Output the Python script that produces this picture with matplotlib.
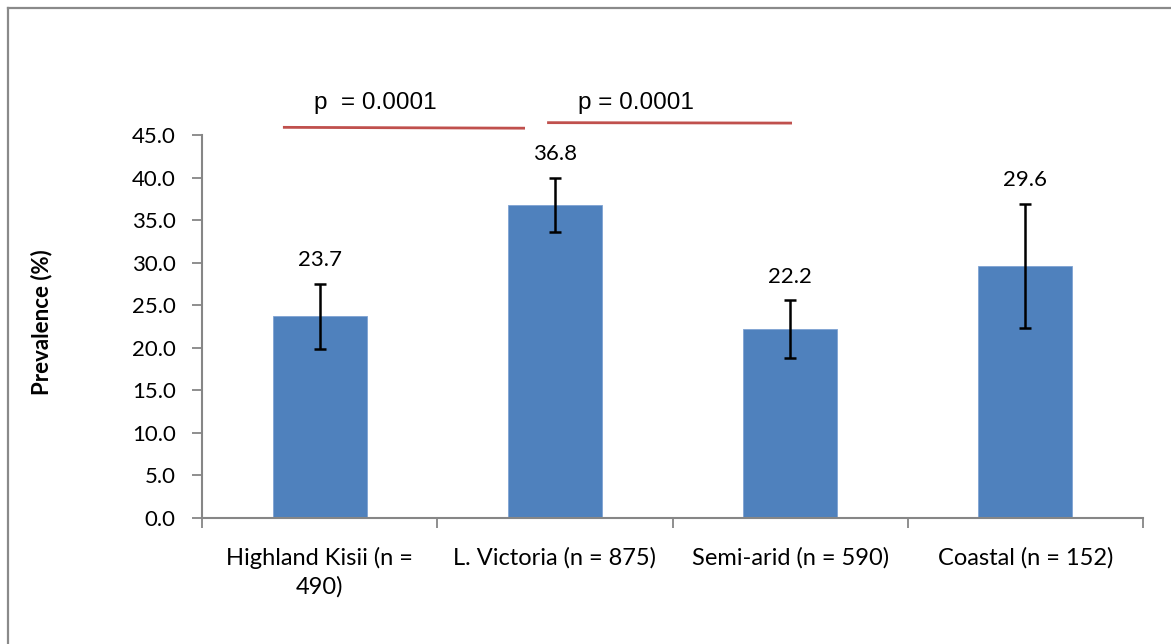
import matplotlib
matplotlib.use("Agg")
import matplotlib.pyplot as plt
from matplotlib.lines import Line2D
from matplotlib.ticker import FormatStrFormatter, MultipleLocator

regioes = ["Highland Kisii (n =\n490)", "L. Victoria (n = 875)",
           "Semi-arid (n = 590)", "Coastal (n = 152)"]
prevalencia = [23.7, 36.8, 22.2, 29.6]
erro = [3.8, 3.2, 3.4, 7.3]
rotulos = ["23.7", "36.8", "22.2", "29.6"]

# comparacoes: (x inicio, x fim, y inicio, y fim, texto, x texto)
comparacoes = [
    (-0.156, 0.873, 45.9, 45.8, "p  = 0.0001", 0.2375),
    (0.967, 2.008, 46.45, 46.4, "p = 0.0001", 1.343),
]

plt.rcParams['font.family'] = ['Lato', 'DejaVu Sans']
cinza = '#868686'

fig = plt.figure(figsize=(11.71, 6.44), dpi=100)
ax = fig.add_axes([202/1171, 1 - 518/644, (1143 - 202)/1171, (518 - 135)/644])

x = list(range(len(regioes)))
ax.bar(x, prevalencia, width=0.4, color='#4F81BD', edgecolor='#7fa3d3',
       linewidth=0.6, zorder=2)
ax.errorbar(x, prevalencia, yerr=erro, fmt='none', ecolor='black',
            elinewidth=1.8, capsize=4.5, capthick=1.8, zorder=3)

for xi, v, e, r in zip(x, prevalencia, erro, rotulos):
    ax.annotate(r, (xi, v + e), xytext=(0, 17), textcoords='offset points',
                ha='center', va='center', fontsize=16)

for x0, x1, y0, y1, txt, xt in comparacoes:
    ax.plot([x0, x1], [y0, y1], color='#C0504D', linewidth=2, clip_on=False,
            solid_capstyle='butt')
    ax.text(xt, 48.0, txt, ha='center', va='baseline', fontsize=17.5,
            family=['Liberation Sans', 'DejaVu Sans'], clip_on=False)

ax.set_xlim(-0.5, len(regioes) - 0.5)
ax.set_ylim(0, 45)
ax.yaxis.set_major_locator(MultipleLocator(5))
ax.yaxis.set_major_formatter(FormatStrFormatter('%.1f'))
ax.set_xticks(x)
ax.set_xticklabels(regioes, fontsize=17, linespacing=1.4)
ax.set_xticks([i - 0.5 for i in range(len(regioes) + 1)], minor=True)
ax.tick_params(axis='x', which='major', length=0, pad=21)
ax.tick_params(axis='x', which='minor', length=7, width=1.3, color=cinza, direction='out')
ax.tick_params(axis='y', length=7, width=1.3, color=cinza, direction='out',
               labelsize=16, pad=12)

for s in ['top', 'right']:
    ax.spines[s].set_visible(False)
for s in ['left', 'bottom']:
    ax.spines[s].set_color(cinza)
    ax.spines[s].set_linewidth(1.5)

ax.set_ylabel("Prevalence (%)", fontsize=16, fontweight='bold')
ax.yaxis.set_label_coords(52/1171, 0.5, transform=fig.transFigure)

# moldura externa
fig.add_artist(Line2D([8/1171, 8/1171], [0, 1 - 8/644], color='#8a8a8a',
                      linewidth=1.6, transform=fig.transFigure))
fig.add_artist(Line2D([8/1171, 1], [1 - 8/644, 1 - 8/644], color='#8a8a8a',
                      linewidth=1.6, transform=fig.transFigure))

fig.savefig("out.png", dpi=100)
